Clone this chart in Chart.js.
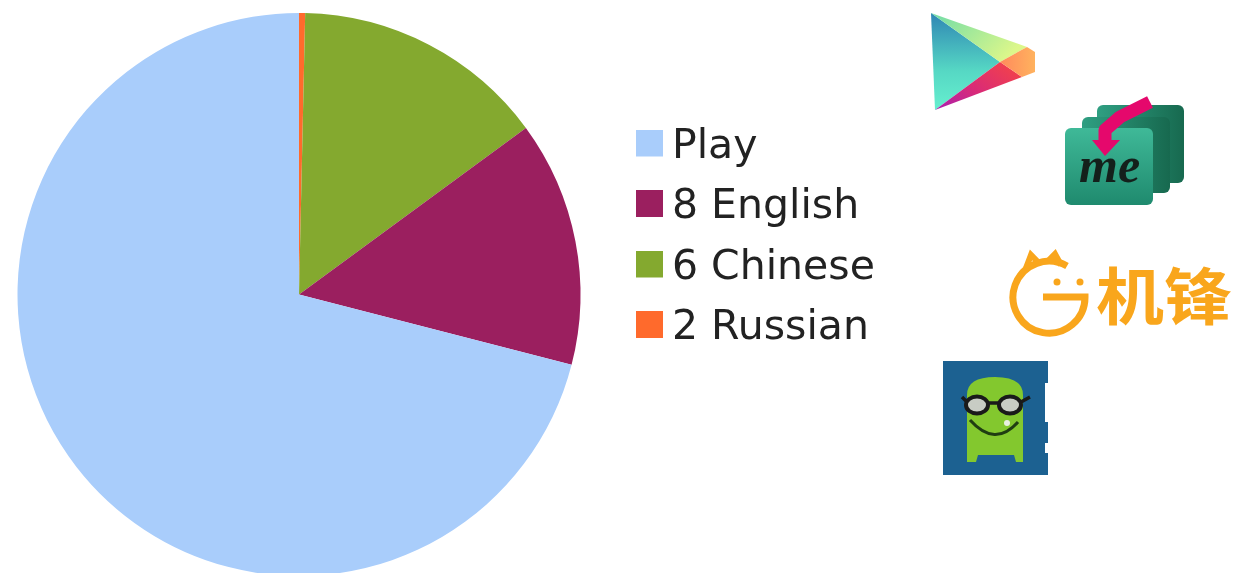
<!DOCTYPE html>
<html>
<head>
<meta charset="utf-8">
<title>App stores</title>
<script src="https://cdn.jsdelivr.net/npm/chart.js@4"></script>
<style>
    html, body { margin: 0; padding: 0; background: #fff; width: 1233px; height: 573px; overflow: hidden; }
    #stage { position: relative; width: 1233px; height: 573px; overflow: hidden; }
    #pie { position: absolute; left: 0; top: 0; }
    #icons { position: absolute; left: 0; top: 0; }
</style>
</head>
<body>
<div id="stage">
    <canvas id="pie" width="1233" height="590"></canvas>
    <svg id="icons" width="1233" height="573" viewBox="0 0 1233 573">
        <defs>
            <linearGradient id="playLeft" x1="0" y1="0" x2="0" y2="1">
                <stop offset="0" stop-color="#2f86b4"/>
                <stop offset="0.6" stop-color="#56d8c4"/>
                <stop offset="1" stop-color="#66efcf"/>
            </linearGradient>
            <linearGradient id="playTop" x1="0" y1="0" x2="1" y2="0.5">
                <stop offset="0" stop-color="#6fdca8"/>
                <stop offset="1" stop-color="#dcf78a"/>
            </linearGradient>
            <linearGradient id="playBottom" x1="0" y1="1" x2="1" y2="0.3">
                <stop offset="0" stop-color="#a81fb0"/>
                <stop offset="0.5" stop-color="#d92a78"/>
                <stop offset="1" stop-color="#f0404e"/>
            </linearGradient>
            <linearGradient id="playRight" x1="0" y1="0" x2="1" y2="0">
                <stop offset="0" stop-color="#ff8a5c"/>
                <stop offset="1" stop-color="#ffb25e"/>
            </linearGradient>
            <linearGradient id="card" x1="0" y1="0" x2="0" y2="1">
                <stop offset="0" stop-color="#3fb998"/>
                <stop offset="1" stop-color="#1f8a6e"/>
            </linearGradient>
            <linearGradient id="cardBack" x1="0" y1="0" x2="1" y2="0">
                <stop offset="0" stop-color="#2f9f82"/>
                <stop offset="1" stop-color="#17694f"/>
            </linearGradient>
        </defs>

        <!-- play store -->
        <polygon points="931,13 1000,62 935,110" fill="url(#playLeft)"/>
        <polygon points="931,13 1027,47 1000,62" fill="url(#playTop)"/>
        <polygon points="935,110 1000,62 1022,77" fill="url(#playBottom)"/>
        <path d="M1000,62 L1027,47 L1035,52 L1035,72 L1022,77 Z" fill="url(#playRight)"/>

        <!-- me store -->
        <rect x="1097" y="105" width="87" height="78" rx="6" fill="url(#cardBack)"/>
        <rect x="1082" y="117" width="88" height="76" rx="6" fill="url(#cardBack)"/>
        <rect x="1065" y="128" width="88" height="77" rx="6" fill="url(#card)"/>
        <path d="M1150,102 L1120,117 L1105,130 L1105,142" fill="none" stroke="#e5086c" stroke-width="13" stroke-linejoin="round"/>
        <polygon points="1092,140 1120,140 1105,156" fill="#e5086c"/>
        <text x="1079" y="182" font-family="Liberation Serif" font-style="italic" font-weight="bold" font-size="50" fill="#14201b">me</text>

        <!-- gfan logo -->
        <path d="M1067,266 A36,36 0 1 0 1085,297 L1043,297" fill="none" stroke="#f9a61c" stroke-width="7"/>
        <path d="M1026,268 L1031,255 L1038,262 M1048,261 L1055,254 L1061,265" fill="none" stroke="#f9a61c" stroke-width="6"/>
        <circle cx="1057" cy="282" r="3.5" fill="#f9a61c"/>
        <circle cx="1080" cy="282" r="3.5" fill="#f9a61c"/>
        <text x="1096" y="320" font-family="Noto Sans CJK SC" font-weight="bold" font-size="62" textLength="136" lengthAdjust="spacingAndGlyphs" fill="#f9a61c">机锋</text>

        <!-- glasses mascot on a blue square -->
        <rect x="943" y="361" width="105" height="114" fill="#1c6191"/>
        <rect x="1045" y="383" width="4" height="39" fill="#fff"/>
        <rect x="1045" y="443" width="4" height="10" fill="#fff"/>
        <path d="M967,462 L967,395 Q967,377 995,377 Q1023,377 1023,395 L1023,462 L1016,462 L1014,455 L978,455 L976,462 Z" fill="#83c82e"/>
        <ellipse cx="977" cy="405" rx="11" ry="8.5" fill="#c8ccc4" stroke="#1a1a1a" stroke-width="4"/>
        <ellipse cx="1010" cy="405" rx="11" ry="8.5" fill="#c8ccc4" stroke="#1a1a1a" stroke-width="4"/>
        <path d="M962,397 L967,402 M988,403 L999,403 M1021,402 L1030,397" stroke="#1a1a1a" stroke-width="3.5" fill="none"/>
        <path d="M970,420 Q995,448 1018,422" fill="none" stroke="#1f3d12" stroke-width="3"/>
        <circle cx="1007" cy="423" r="3" fill="#e8f0e0"/>
    </svg>
</div>

<script>
// Slices run clockwise from twelve o'clock; the legend lists them the other way round
const categories = ['2 Russian', '6 Chinese', '8 English', 'Play'];
const shares = [0.35, 14.57, 14.1, 70.98];
const sliceColors = ['#ff6a2c', '#84a92f', '#9b1f5f', '#a9cdfb'];

const legendLeft = 627;
const legendTop = 107;
const swatchSize = 27;
const swatchLift = 4;

// Square legend marker, drawn off screen so it can sit closer to its text.
// The clear strip along the bottom lifts the square a little above the text's middle.
const makeSwatch = (color) => {
    const swatch = document.createElement('canvas');
    swatch.width = swatchSize;
    swatch.height = swatchSize + swatchLift * 2;
    const ctx = swatch.getContext('2d');
    ctx.fillStyle = color;
    ctx.fillRect(0, 0, swatchSize, swatchSize);
    return swatch;
};

// Pull the legend out of the chart area and over to the right of the pie
const moveLegend = {
    id: 'moveLegend',
    afterLayout: (chart) => {
        const legend = chart.legend;
        legend.left = legendLeft;
        legend.right = legendLeft + legend.width;
        legend.top = legendTop;
        legend.bottom = legendTop + legend.height;
    }
};

new Chart(document.getElementById('pie'), {
    type: 'pie',
    data: {
        labels: categories,
        datasets: [{
            data: shares,
            backgroundColor: sliceColors,
            borderWidth: 0
        }]
    },
    plugins: [moveLegend],
    options: {
        responsive: false,
        animation: false,
        layout: {
            padding: { left: 17, top: 13, right: 652, bottom: 14 }
        },
        plugins: {
            legend: {
                position: 'chartArea',
                align: 'start',
                reverse: true,
                labels: {
                    usePointStyle: true,
                    pointStyleWidth: 5,
                    boxHeight: swatchSize,
                    padding: 19.5,
                    color: '#222',
                    font: { family: 'DejaVu Sans', size: 41 },
                    generateLabels: (chart) => {
                        const items = Chart.overrides.pie.plugins.legend.labels.generateLabels(chart);
                        return items.map(item => ({ ...item, pointStyle: makeSwatch(sliceColors[item.index]) }));
                    }
                }
            },
            tooltip: { enabled: false }
        }
    }
});
</script>
</body>
</html>
